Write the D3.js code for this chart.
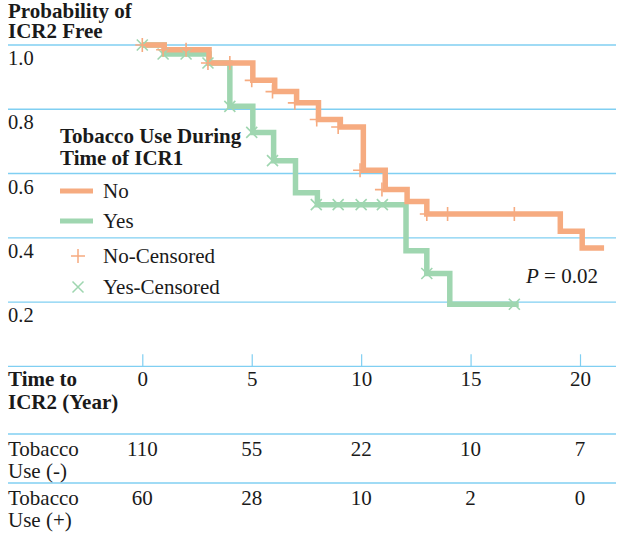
<!DOCTYPE html>
<html>
<head>
<meta charset="utf-8">
<script src="https://cdn.jsdelivr.net/npm/d3@7/dist/d3.min.js"></script>
<style>
  html, body { margin: 0; padding: 0; background: #fff; }
  svg { display: block; }
  text { font-family: "Liberation Serif", "Times New Roman", serif; fill: #1a1a1a; }
</style>
</head>
<body>
<div id="chart"></div>
<script>
// ---------- data ----------
const xTicks = [0, 5, 10, 15, 20];
const yTicks = [0.2, 0.4, 0.6, 0.8, 1.0];

// Tobacco use: No (step starts)
const noTimes = [0, 1.0, 3.05, 5.05, 6.05, 7.05, 8.05, 9.05, 10.1, 11.1, 12.1, 13.0, 19.1, 20.1];
const noSurv  = [1.0, 0.985, 0.944, 0.89, 0.855, 0.82, 0.768, 0.745, 0.61, 0.55, 0.513, 0.474, 0.42, 0.368];
const noEnd = 21.1;

// Tobacco use: Yes (step starts)
const yesTimes = [0, 1.0, 3.05, 4.0, 5.05, 6.0, 7.0, 8.0, 12.05, 13.0, 14.05];
const yesSurv  = [1.0, 0.972, 0.944, 0.809, 0.728, 0.64, 0.54, 0.503, 0.36, 0.289, 0.193];
const yesEnd = 17.2;

// Censored observations
const noCensT = [0, 0.95, 2.0, 3.0, 4.0, 5.0, 5.95, 6.97, 7.97, 8.95, 9.95, 10.95, 13.0, 13.95, 17.0];
const noCensS = [1.0, 0.985, 0.985, 0.944, 0.944, 0.89, 0.855, 0.82, 0.768, 0.745, 0.61, 0.55, 0.474, 0.474, 0.474];
const yesCensT = [0, 0.95, 2.0, 3.0, 4.0, 5.0, 5.95, 7.95, 8.95, 10.0, 10.97, 13.0, 17.0];
const yesCensS = [1.0, 0.972, 0.972, 0.944, 0.809, 0.728, 0.64, 0.503, 0.503, 0.503, 0.503, 0.289, 0.193];

// Numbers at risk
const riskNo  = [110, 55, 22, 10, 7];
const riskYes = [60, 28, 10, 2, 0];

// ---------- styles ----------
const W = 622, H = 534;
const ORANGE = "#f6ab80";
const GREEN = "#9fd6b0";
const GRID = "#80cff2";
const FS = 21, FSB = 21;

const svg = d3.select("#chart").append("svg").attr("width", W).attr("height", H);

const x = d3.scaleLinear().domain([0, 20]).range([142.3, 580]);
const y = d3.scaleLinear().domain([0, 1]).range([366.3, 45]);
const left = 8, right = 616;

// gridlines
svg.append("g").selectAll("line").data(yTicks).join("line")
  .attr("x1", left).attr("x2", right)
  .attr("y1", d => y(d)).attr("y2", d => y(d))
  .attr("stroke", GRID).attr("stroke-width", 1.3);

// y labels
svg.append("g").selectAll("text").data(yTicks).join("text")
  .attr("x", left).attr("y", d => y(d) + 20)
  .attr("font-size", 20.5)
  .text(d => d3.format(".1f")(d));

// y title
const yt = svg.append("text").attr("x", left).attr("font-size", FSB).attr("font-weight", "bold");
yt.append("tspan").attr("x", left).attr("y", 18).text("Probability of");
yt.append("tspan").attr("x", left).attr("y", 38).text("ICR2 Free");

// x axis
svg.append("line").attr("x1", left).attr("x2", right)
  .attr("y1", y(0)).attr("y2", y(0)).attr("stroke", GRID).attr("stroke-width", 1.3);
const xAxis = d3.axisBottom(x).tickValues(xTicks).tickSizeInner(-12).tickSizeOuter(0).tickPadding(5);
const gx = svg.append("g").attr("transform", `translate(0,${y(0)})`).call(xAxis);
gx.select(".domain").remove();
gx.selectAll(".tick line").attr("stroke", GRID).attr("stroke-width", 1.2);
gx.selectAll(".tick text").attr("font-size", FS).attr("font-family", "Liberation Serif, serif").attr("fill", "#1a1a1a");

// step curves
function stepPath(times, surv, end) {
  const pts = times.map((t, i) => [t, surv[i]]);
  pts.push([end, surv[surv.length - 1]]);
  return d3.line().x(d => x(d[0])).y(d => y(d[1])).curve(d3.curveStepAfter)(pts);
}
svg.append("path").attr("d", stepPath(yesTimes, yesSurv, yesEnd))
  .attr("fill", "none").attr("stroke", GREEN).attr("stroke-width", 5.5);
svg.append("path").attr("d", stepPath(noTimes, noSurv, noEnd))
  .attr("fill", "none").attr("stroke", ORANGE).attr("stroke-width", 5.5);

// censor marks
function plusPath(a) { return `M${-a},0H${a}M0,${-a}V${a}`; }
function crossPath(a) { return `M${-a},${-a}L${a},${a}M${-a},${a}L${a},${-a}`; }

svg.append("g").selectAll("path").data(yesCensT.map((t, i) => [t, yesCensS[i]])).join("path")
  .attr("transform", d => `translate(${x(d[0])},${y(d[1])})`)
  .attr("d", crossPath(5.5)).attr("stroke", GREEN).attr("stroke-width", 1.6).attr("fill", "none");
svg.append("g").selectAll("path").data(noCensT.map((t, i) => [t, noCensS[i]])).join("path")
  .attr("transform", d => `translate(${x(d[0])},${y(d[1])})`)
  .attr("d", plusPath(7)).attr("stroke", ORANGE).attr("stroke-width", 1.6).attr("fill", "none");

// legend
const lg = svg.append("g");
const lt = lg.append("text").attr("font-size", FSB).attr("font-weight", "bold");
lt.append("tspan").attr("x", 60).attr("y", 143).text("Tobacco Use During");
lt.append("tspan").attr("x", 60).attr("y", 165).text("Time of ICR1");
const lineItems = [{label: "No", color: ORANGE, yy: 191}, {label: "Yes", color: GREEN, yy: 221}];
lineItems.forEach(it => {
  lg.append("line").attr("x1", 60).attr("x2", 93).attr("y1", it.yy).attr("y2", it.yy)
    .attr("stroke", it.color).attr("stroke-width", 5);
  lg.append("text").attr("x", 103).attr("y", it.yy + 6.5).attr("font-size", FS).text(it.label);
});
lg.append("path").attr("transform", "translate(78,256)").attr("d", plusPath(7))
  .attr("stroke", ORANGE).attr("stroke-width", 1.5).attr("fill", "none");
lg.append("text").attr("x", 103).attr("y", 262.5).attr("font-size", FS).text("No-Censored");
lg.append("path").attr("transform", "translate(78,287)").attr("d", crossPath(5.5))
  .attr("stroke", GREEN).attr("stroke-width", 1.5).attr("fill", "none");
lg.append("text").attr("x", 103).attr("y", 293.5).attr("font-size", FS).text("Yes-Censored");

// p-value
const pt = svg.append("text").attr("x", 526).attr("y", 283).attr("font-size", FS);
pt.append("tspan").attr("font-style", "italic").text("P");
pt.append("tspan").text(" = 0.02");

// risk table
const tx = svg.append("text").attr("font-size", FSB).attr("font-weight", "bold");
tx.append("tspan").attr("x", left).attr("y", 386).text("Time to");
tx.append("tspan").attr("x", left).attr("y", 409).text("ICR2 (Year)");

[434, 483].forEach(yy => svg.append("line").attr("x1", left).attr("x2", right)
  .attr("y1", yy).attr("y2", yy).attr("stroke", GRID).attr("stroke-width", 1.3));

const rows = [
  {l1: "Tobacco", l2: "Use (-)", vals: riskNo, base: 456},
  {l1: "Tobacco", l2: "Use (+)", vals: riskYes, base: 505}
];
rows.forEach(r => {
  const t = svg.append("text").attr("font-size", FS);
  t.append("tspan").attr("x", left).attr("y", r.base).text(r.l1);
  t.append("tspan").attr("x", left).attr("y", r.base + 22).text(r.l2);
  svg.append("g").selectAll("text").data(r.vals).join("text")
    .attr("x", (d, i) => x(xTicks[i])).attr("y", r.base)
    .attr("text-anchor", "middle").attr("font-size", FS).text(d => d);
});
</script>
</body>
</html>
